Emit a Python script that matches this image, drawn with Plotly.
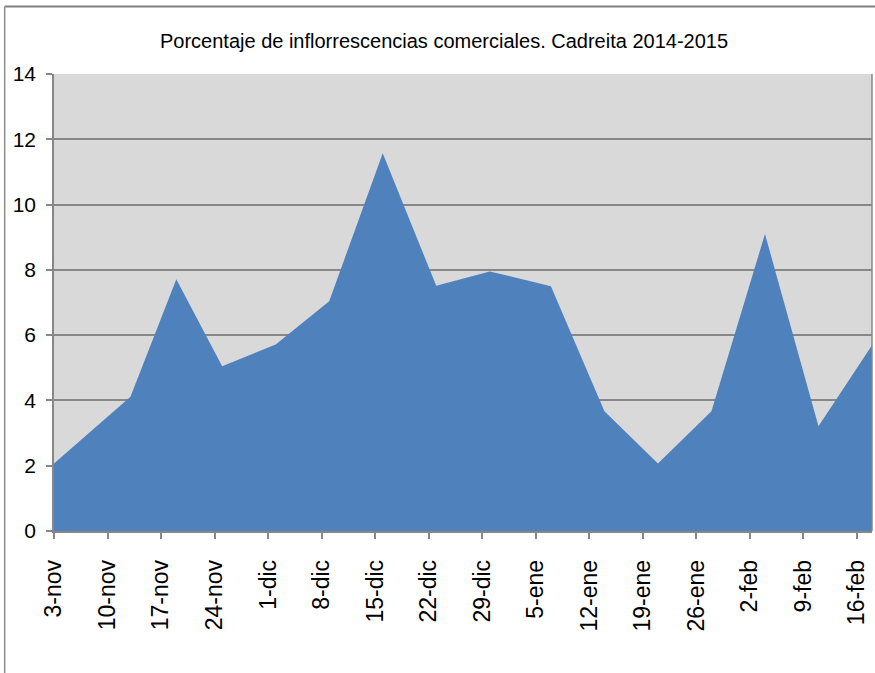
import plotly.graph_objects as go

# Data
dates = ["2014-11-03", "2014-11-13", "2014-11-19", "2014-11-25", "2014-12-02",
         "2014-12-09", "2014-12-16", "2014-12-23", "2014-12-30", "2015-01-07",
         "2015-01-14", "2015-01-21", "2015-01-28", "2015-02-04", "2015-02-11",
         "2015-02-18"]
values = [2.07, 4.11, 7.71, 5.05, 5.71, 7.04, 11.57, 7.51, 7.95, 7.50,
          3.67, 2.07, 3.67, 9.10, 3.21, 5.69]

tick_dates = ["2014-11-03", "2014-11-10", "2014-11-17", "2014-11-24", "2014-12-01",
              "2014-12-08", "2014-12-15", "2014-12-22", "2014-12-29", "2015-01-05",
              "2015-01-12", "2015-01-19", "2015-01-26", "2015-02-02", "2015-02-09",
              "2015-02-16"]
tick_labels = ["3-nov", "10-nov", "17-nov", "24-nov", "1-dic", "8-dic", "15-dic",
               "22-dic", "29-dic", "5-ene", "12-ene", "19-ene", "26-ene", "2-feb",
               "9-feb", "16-feb"]
y_ticks = [0, 2, 4, 6, 8, 10, 12, 14]

title_text = "Porcentaje de inflorrescencias comerciales. Cadreita 2014-2015"

W, H = 875, 673
L, R, T, B = 54.3, 3.3, 74, 142
pw = W - L - R
ph = H - T - B

font_fam = "Liberation Sans, Arial, sans-serif"
grid_col = "#878787"

fig = go.Figure()
fig.add_trace(go.Scatter(
    x=dates, y=values, mode="lines", fill="tozeroy",
    fillcolor="#4F81BD", line=dict(width=0, color="#4F81BD"),
    hoverinfo="x+y", showlegend=False,
))

fig.update_layout(
    width=W, height=H,
    margin=dict(l=L, r=R, t=T, b=B, pad=0, autoexpand=False),
    paper_bgcolor="white",
    plot_bgcolor="#D9D9D9",
    title=dict(text=title_text, x=444 / W, xanchor="center",
               y=1 - 41 / H, yanchor="middle",
               font=dict(family=font_fam, size=20, color="black")),
    xaxis=dict(
        type="date", automargin=False,
        range=["2014-11-03", "2015-02-18"],
        tickmode="array", tickvals=tick_dates, ticktext=tick_labels,
        tickangle=-90,
        tickfont=dict(family=font_fam, size=23, color="black"),
        ticks="outside", ticklen=6, tickwidth=1.5, tickcolor=grid_col,
        ticklabelstandoff=12,
        showline=True, linecolor=grid_col, linewidth=1.5,
        showgrid=False, zeroline=False, mirror=False,
    ),
    yaxis=dict(
        range=[0, 14], automargin=False,
        tickmode="array", tickvals=y_ticks,
        tickfont=dict(family=font_fam, size=21, color="black"),
        ticks="outside", ticklen=6, tickwidth=1.5, tickcolor=grid_col,
        ticklabelstandoff=6,
        showline=True, linecolor=grid_col, linewidth=1.5,
        showgrid=True, gridcolor=grid_col, gridwidth=1.5,
        zeroline=False,
    ),
)

# plot area right border
fig.add_shape(type="line", xref="paper", yref="paper", x0=1, x1=1, y0=0, y1=1,
              line=dict(color=grid_col, width=1.5))
# chart area frame (top and left)
fy = (H - B - 6.5) / ph
fx = (5 - L) / pw
fig.add_shape(type="line", xref="paper", yref="paper", x0=fx, x1=(W - L) / pw + 0.01,
              y0=fy, y1=fy, line=dict(color="#808080", width=2))
fig.add_shape(type="line", xref="paper", yref="paper", x0=fx, x1=fx,
              y0=fy, y1=-(B + 5) / ph, line=dict(color="#8C8C8C", width=1.5))

fig.write_html("out.html", config={"displayModeBar": False},
               post_script="document.body.style.margin='0px';document.body.style.overflow='hidden';")
